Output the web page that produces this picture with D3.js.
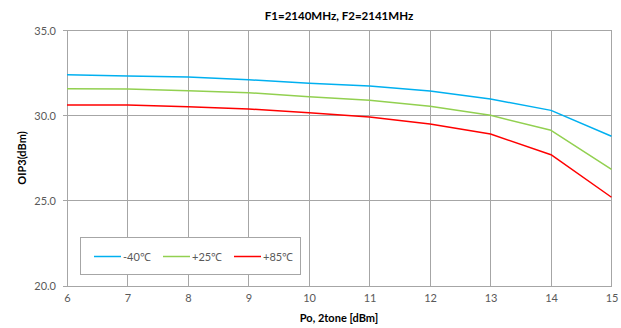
<!DOCTYPE html>
<html><head><meta charset="utf-8">
<script src="https://cdn.jsdelivr.net/npm/d3@7"></script>
<style>body{margin:0;background:#fff}svg{display:block}</style>
</head><body>
<svg id="c" width="621" height="328"></svg>
<script>
const xValues = [6,7,8,9,10,11,12,13,14,15];
const seriesNames = ["-40℃", "+25℃", "+85℃"];
const seriesColors = ["#00b0f0", "#92d050", "#ff0000"];
const valuesM40 = [32.40, 32.33, 32.27, 32.11, 31.90, 31.74, 31.45, 30.98, 30.31, 28.79];
const valuesP25 = [31.58, 31.56, 31.47, 31.35, 31.11, 30.90, 30.55, 30.02, 29.14, 26.85];
const valuesP85 = [30.63, 30.63, 30.53, 30.39, 30.17, 29.92, 29.51, 28.92, 27.71, 25.21];
const yTicks = [20, 25, 30, 35];
const xTicks = [6,7,8,9,10,11,12,13,14,15];
const title = "F1=2140MHz, F2=2141MHz";
const xTitle = "Po, 2tone [dBm]";
const yTitle = "OIP3(dBm)";

const series = [valuesM40, valuesP25, valuesP85];
const font = "Lato, 'Open Sans', sans-serif";
const svg = d3.select("#c");
const L = 67, R = 611.5, T = 30.5, B = 286;
const x = d3.scaleLinear().domain([6,15]).range([L,R]);
const y = d3.scaleLinear().domain([20,35]).range([B,T]);
const grid = "#a6a6a6";

// gridlines
svg.append("g").selectAll("line").data(xTicks).join("line")
  .attr("x1", d=>x(d)).attr("x2", d=>x(d)).attr("y1", T).attr("y2", B)
  .attr("stroke", grid).attr("stroke-width", 1).attr("shape-rendering","crispEdges");
svg.append("g").selectAll("line").data(yTicks).join("line")
  .attr("x1", L-4).attr("x2", R).attr("y1", d=>y(d)).attr("y2", d=>y(d))
  .attr("stroke", grid).attr("stroke-width", 1).attr("shape-rendering","crispEdges");
svg.append("line").attr("x1",L).attr("x2",L).attr("y1",T).attr("y2",B)
  .attr("stroke", grid).attr("shape-rendering","crispEdges");

// axes labels via d3 axes
const yAxis = svg.append("g").attr("transform",`translate(${L-10},0)`)
  .call(d3.axisLeft(y).tickValues(yTicks).tickFormat(d3.format(".1f")).tickSize(0));
yAxis.select(".domain").remove();
yAxis.selectAll("text").attr("font-family", font).attr("font-size", 11).attr("fill", "#595959").attr("dx", 0).attr("x", -1);
const xAxis = svg.append("g").attr("transform",`translate(0,${B+8})`)
  .call(d3.axisBottom(x).tickValues(xTicks).tickFormat(d3.format("d")).tickSize(0));
xAxis.select(".domain").remove();
xAxis.selectAll("text").attr("font-family", font).attr("font-size", 11).attr("fill", "#595959").attr("dy","0.71em").attr("y",0);

// lines
const line = d3.line().x((d,i)=>x(xValues[i])).y(d=>y(d));
series.forEach((s,i)=>{
  svg.append("path").datum(s).attr("d", line).attr("fill","none")
    .attr("stroke", seriesColors[i]).attr("stroke-width", 1.5).attr("stroke-linejoin","round");
});

// titles
svg.append("text").attr("x", 339).attr("y", 20).attr("text-anchor","middle")
  .attr("font-family", font).attr("font-size", 11.5).attr("font-weight","bold").attr("fill","#000").text(title);
svg.append("text").attr("x", 339).attr("y", 322).attr("text-anchor","middle")
  .attr("font-family", font).attr("font-size", 11).attr("font-weight","bold").attr("fill","#000").text(xTitle);
svg.append("text").attr("transform","translate(26,158) rotate(-90)").attr("text-anchor","middle")
  .attr("font-family", font).attr("font-size", 11).attr("font-weight","bold").attr("fill","#000").text(yTitle);

// legend
const lg = svg.append("g");
lg.append("rect").attr("x",80.5).attr("y",237.5).attr("width",220).attr("height",37)
  .attr("fill","#fff").attr("stroke","#a6a6a6");
const legX = [94, 163, 234];
seriesNames.forEach((n,i)=>{
  lg.append("line").attr("x1",legX[i]).attr("x2",legX[i]+27).attr("y1",256.5).attr("y2",256.5)
    .attr("stroke", seriesColors[i]).attr("stroke-width",1.5);
  lg.append("text").attr("x",legX[i]+29).attr("y",260.5).attr("font-family",font).attr("font-size",11)
    .attr("fill","#595959").text(n);
});
</script>
</body></html>
